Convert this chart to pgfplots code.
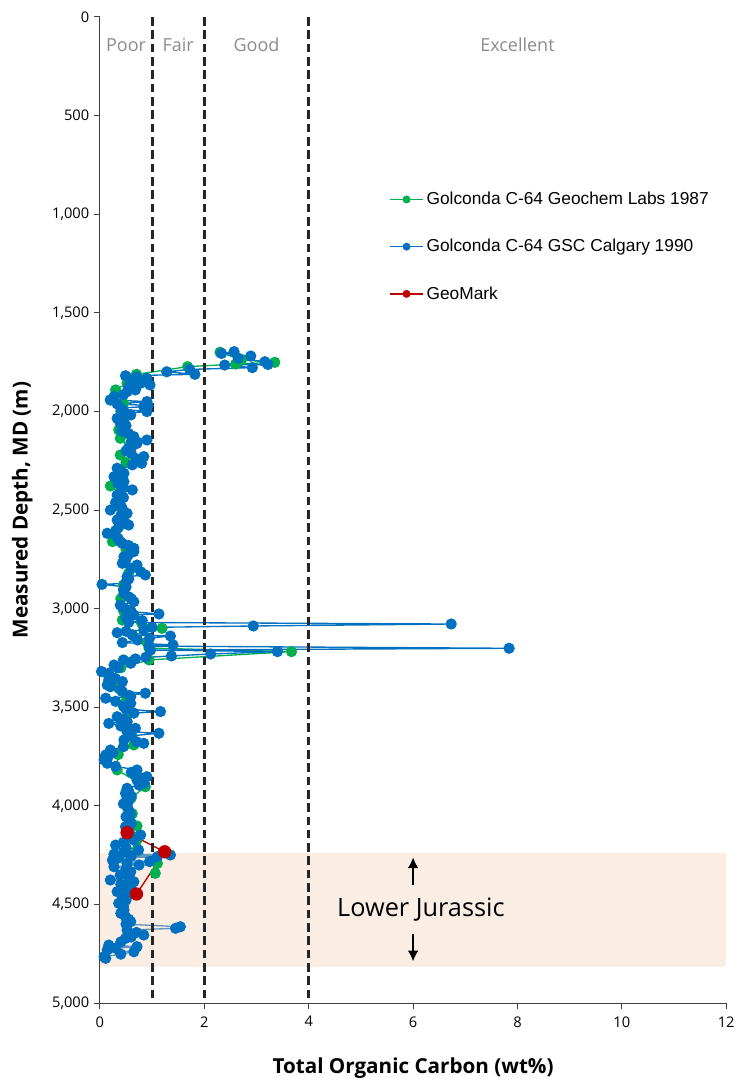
\documentclass[border=0pt]{standalone}
\usepackage{fontspec}
\setmainfont{Open Sans}
\newfontfamily\legendfont{Liberation Sans}
\usepackage{pgfplots}
\pgfplotsset{compat=1.18}
\usetikzlibrary{arrows.meta}
\definecolor{gcgreen}{HTML}{00B050}
\definecolor{gcblue}{HTML}{0070C0}
\definecolor{gmred}{HTML}{C00000}
\definecolor{bandfill}{RGB}{240,210,188}
\definecolor{zonegray}{HTML}{8C8C8C}

\begin{document}
\begin{tikzpicture}
\begin{axis}[
  width=470pt, height=740pt,
  scale only axis,
  y dir=reverse,
  xmin=0, xmax=12, ymin=0, ymax=5000,
  xtick={0,2,...,12},
  ytick={0,500,...,5000},
  axis x line*=bottom,
  axis y line*=left,
  axis line style={black!75, line width=0.75pt, -},
  tick align=outside,
  major tick length=4.5pt,
  tick style={black!75, line width=0.75pt},
  /pgf/number format/.cd, 1000 sep={,}, assume math mode=true,
  /pgfplots/.cd,
  tick label style={font=\fontsize{11}{13}\selectfont},
  xticklabel style={yshift=-2pt},
  xlabel={\textbf{Total Organic Carbon (wt\%)}},
  ylabel={\textbf{Measured Depth, MD (m)}},
  label style={font=\fontsize{15.5}{18}\selectfont},
  xlabel style={at={(axis description cs:0.5,-0.066)}, anchor=center},
  ylabel style={at={(axis description cs:-0.124,0.5)}, anchor=center},
  legend style={at={(axis description cs:0.455,0.828)}, anchor=north west,
    draw=none, fill=none, row sep=20.5pt,
    font=\legendfont\fontsize{13}{15}\selectfont},
  legend cell align=left,
  legend image code/.code={
    \draw[line width=1.1pt, mark repeat=2, mark phase=2, mark size=2.4pt] plot coordinates {(0pt,0pt) (12.5pt,0pt) (25pt,0pt)};},
  clip=false,
]
% Geochem Labs 1987
\addplot[gcgreen, line width=1pt, mark=*, mark size=3.7pt, mark options={solid}] coordinates {
(2.30,1700) (2.71,1739) (3.35,1751) (2.60,1760) (1.68,1773) (0.70,1812)
(0.55,1830) (0.52,1857) (0.30,1891) (0.20,1942) (0.45,1960) (0.40,2000)
(0.36,2094) (0.39,2136) (0.55,2180) (0.39,2221) (0.50,2260) (0.35,2300)
(0.40,2340) (0.20,2378) (0.40,2420) (0.35,2480) (0.40,2530) (0.45,2570)
(0.30,2610) (0.24,2660) (0.50,2700) (0.45,2760) (0.55,2820) (0.45,2880)
(0.40,2950) (0.45,3010) (0.43,3058) (0.80,3075) (1.19,3100) (0.62,3133)
(0.90,3170) (0.94,3200) (3.67,3218) (0.94,3260) (0.40,3300) (0.20,3350)
(0.36,3404) (0.50,3470) (0.55,3530) (0.52,3573) (0.60,3640) (0.65,3691)
(0.35,3740) (0.33,3818) (0.87,3903) (0.60,3960) (0.62,4040) (0.71,4102)
(0.70,4180) (0.71,4224) (1.10,4292) (1.06,4342)
};
\addlegendentry{Golconda C-64 Geochem Labs 1987}
% GSC Calgary 1990
\addplot[gcblue, line width=1pt, mark=*, mark size=3.7pt, mark options={solid}] coordinates {
(2.57,1697) (2.33,1706) (2.89,1719) (2.65,1730) (3.16,1748) (3.22,1762)
(2.39,1765) (2.92,1778) (1.72,1787) (1.28,1799) (1.82,1812) (0.49,1819)
(0.70,1825) (0.90,1832) (0.65,1845) (0.78,1857) (0.96,1866) (0.55,1874)
(0.68,1891) (0.52,1900) (0.45,1915) (0.27,1925) (0.20,1942) (0.90,1950)
(0.33,1962) (0.92,1970) (0.84,1976) (0.40,1983) (0.43,1989) (0.90,2001)
(0.50,2010) (0.59,2018) (0.33,2035) (0.45,2048) (0.39,2060) (0.50,2072)
(0.46,2086) (0.42,2100) (0.55,2113) (0.65,2128) (0.90,2145) (0.60,2153)
(0.71,2162) (0.62,2175) (0.55,2187) (0.50,2200) (0.60,2213) (0.84,2229)
(0.70,2240) (0.68,2255) (0.80,2263) (0.62,2271) (0.33,2288) (0.40,2300)
(0.46,2314) (0.38,2322) (0.27,2331) (0.40,2344) (0.46,2356) (0.35,2368)
(0.45,2385) (0.62,2398) (0.40,2410) (0.33,2424) (0.45,2437) (0.39,2449)
(0.30,2462) (0.36,2474) (0.42,2487) (0.20,2500) (0.45,2508) (0.52,2517)
(0.40,2530) (0.33,2550) (0.48,2563) (0.55,2576) (0.35,2590) (0.30,2605)
(0.14,2618) (0.30,2630) (0.35,2645) (0.39,2660) (0.43,2669) (0.55,2680)
(0.65,2694) (0.65,2711) (0.55,2725) (0.46,2737) (0.50,2750) (0.43,2770)
(0.71,2779) (0.60,2795) (0.78,2813) (0.87,2829) (0.52,2838) (0.55,2850)
(0.49,2872) (0.04,2877) (0.50,2890) (0.45,2905) (0.46,2922) (0.55,2940)
(0.60,2950) (0.65,2965) (0.39,2982) (0.45,2995) (0.52,3007) (0.60,3015)
(1.13,3027) (0.65,3032) (0.50,3045) (0.81,3061) (0.55,3070) (6.73,3078)
(2.94,3088) (1.00,3095) (0.84,3108) (0.50,3115) (0.33,3122) (0.62,3133)
(1.35,3139) (0.95,3150) (0.72,3159) (0.43,3172) (1.40,3184) (0.94,3190)
(7.84,3201) (0.97,3210) (3.40,3218) (2.12,3230) (1.37,3240) (0.88,3247)
(0.68,3255) (0.45,3260) (0.60,3270) (0.59,3277) (0.27,3286) (0.35,3300)
(0.03,3319) (0.17,3328) (0.17,3345) (0.30,3355) (0.17,3362) (0.43,3370)
(0.14,3387) (0.20,3396) (0.40,3412) (0.43,3421) (0.87,3429) (0.56,3440)
(0.59,3446) (0.11,3454) (0.30,3470) (0.59,3480) (0.45,3495) (0.50,3510)
(1.16,3522) (0.65,3530) (0.33,3548) (0.45,3560) (0.52,3573) (0.17,3582)
(0.40,3595) (0.68,3607) (0.55,3615) (0.52,3624) (1.13,3632) (0.60,3645)
(0.46,3666) (0.70,3675) (0.84,3683) (0.45,3700) (0.20,3717) (0.25,3730)
(0.11,3742) (0.15,3755) (0.08,3767) (0.14,3784) (0.30,3800) (0.71,3818)
(0.60,3830) (0.90,3852) (0.80,3860) (0.71,3869) (0.85,3885) (0.75,3895)
(0.52,3911) (0.55,3925) (0.49,3936) (0.60,3950) (0.52,3962) (0.55,3975)
(0.45,3990) (0.52,4005) (0.55,4021) (0.58,4040) (0.50,4055) (0.55,4070)
(0.60,4090) (0.49,4106) (0.55,4120) (0.78,4148) (0.60,4160) (0.65,4173)
(0.45,4185) (0.30,4199) (0.50,4212) (0.74,4224) (0.45,4235) (0.27,4245)
(1.35,4249) (0.60,4255) (1.10,4258) (0.35,4265) (0.24,4275) (0.95,4283)
(0.52,4292) (0.75,4300) (0.27,4309) (0.50,4320) (0.59,4334) (0.39,4351)
(0.55,4363) (0.20,4376) (0.65,4385) (0.40,4398) (0.49,4410) (0.60,4422)
(0.33,4435) (0.55,4448) (0.43,4461) (0.50,4478) (0.36,4494) (0.45,4510)
(0.46,4528) (0.40,4545) (0.49,4562) (0.55,4575) (0.59,4587) (0.50,4600)
(1.54,4613) (1.45,4621) (0.52,4630) (0.70,4642) (0.84,4655) (0.60,4665)
(0.49,4672) (0.40,4690) (0.17,4706) (0.71,4714) (0.30,4722) (0.14,4731)
(0.65,4740) (0.40,4752) (0.08,4765) (0.11,4773)
};
\addlegendentry{Golconda C-64 GSC Calgary 1990}
% Lower Jurassic band
\addplot[draw=none, fill=bandfill, fill opacity=0.4, forget plot] coordinates {
(0,4240) (12,4240) (12,4815) (0,4815)} -- cycle;
% GeoMark
\addplot[gmred, line width=1pt, mark=*, mark size=4.5pt, mark options={solid}] coordinates {
(0.52,4136) (1.24,4233) (0.70,4447)
};
\addlegendentry{GeoMark}
% TOC quality limits
\addplot[black!85, line width=2.4pt, dash pattern=on 6.5pt off 3.5pt, forget plot] coordinates {(1,0) (1,5000)};
\addplot[black!85, line width=2.4pt, dash pattern=on 6.5pt off 3.5pt, forget plot] coordinates {(2,0) (2,5000)};
\addplot[black!85, line width=2.4pt, dash pattern=on 6.5pt off 3.5pt, forget plot] coordinates {(4,0) (4,5000)};
% arrows
\addplot[black, line width=0.9pt, -{Latex[length=8pt,width=8pt]}, forget plot] coordinates {(6,4400) (6,4262)};
\addplot[black, line width=0.9pt, -{Latex[length=8pt,width=8pt]}, forget plot] coordinates {(6,4650) (6,4788)};
\node[zonegray, font=\fontsize{13.5}{16}\selectfont] at (axis cs:0.5,142) {Poor};
\node[zonegray, font=\fontsize{13.5}{16}\selectfont] at (axis cs:1.5,142) {Fair};
\node[zonegray, font=\fontsize{13.5}{16}\selectfont] at (axis cs:3,142) {Good};
\node[zonegray, font=\fontsize{13.5}{16}\selectfont] at (axis cs:8,142) {Excellent};
\node[black, font=\fontsize{19}{22}\selectfont] at (axis cs:6.15,4525) {Lower Jurassic};
\end{axis}
\path (current axis.south west) ++(-75pt,-60.75pt) (current axis.north east) ++(9.75pt,12.75pt);
\end{tikzpicture}
\end{document}
